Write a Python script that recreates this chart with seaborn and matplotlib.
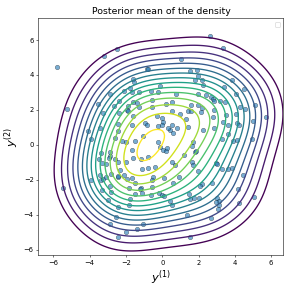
import numpy as np
import pandas as pd
import matplotlib
matplotlib.use("Agg")
import matplotlib.pyplot as plt
import seaborn as sns
from seaborn._statistics import KDE

y1 = [
    # outer / sparse
    -5.80, -3.23, -2.47, 2.62, 3.33, 1.04, -5.23, 5.70, -5.45, 1.55, -2.44, 5.03, 4.97,
    # upper left
    -0.84, -0.77, -1.59, -1.54, -2.12, -1.76, -1.65, -1.26, -0.63, -0.23, -0.14, -2.88,
    -2.36, -1.61, -1.41, -3.56, -2.66, -1.90, -1.28, -0.58, -0.58, -3.25, -2.36, -3.43,
    -4.11, -2.44, -2.42,
    # upper right
    1.55, 1.92, 1.83, 2.19, 1.96, 2.27, 3.87, 3.42, 4.51, 4.07, 0.78, 1.99, 2.41, 2.67,
    2.82, 2.87, 3.17, 3.48, 0.56, 0.19, 1.57, 1.99, 2.18, 4.29, 4.55, 5.12,
    # right middle
    2.12, 2.87, 3.52, 4.07, 2.80, 3.33, 3.64, 4.12, 4.23, 4.99, 2.86, 2.27, 3.61, 3.28,
    3.89, 4.14, 2.95, 3.00, 3.28, 3.63, 3.83, 4.45, 2.76, 2.18, 2.08,
    # centre, upper half
    -1.96, -1.87, 0.52, 0.98, 1.44, 1.57, -1.59, -0.95, -0.85, -0.30, -0.03, 0.06, 0.01,
    0.52, 1.31, 0.43, 0.61, 1.41, -1.50, -2.00, -2.23, -1.08, 1.68, 0.32, 0.80, -1.68,
    -0.25, -2.60, -0.22,
    # centre, lower half
    -1.68, -0.12, 0.06, 0.19, 0.25, 1.81, 1.62, -1.59, -1.19, -0.77, 0.52, 0.71, 1.62,
    1.71, -1.13, -0.77, -0.40, -2.11, -1.92, -1.68, -1.50, -0.49, -0.55, 0.10, 0.93,
    -1.19, -0.58, 0.61, 1.20, 1.99, 1.88, -2.00,
    # left middle
    -3.93, -3.36, -2.86, -2.86, -3.48, -2.95, -2.59, -2.44, -3.10, -3.34, -3.41, -2.84,
    -3.93, -3.39, -3.26, -3.08, -2.44, -2.45, -2.33,
    # lower left
    -3.32, -2.90, -2.82, -2.97, -2.45, -1.85, -1.80, -1.50, -1.10, -0.62, -0.20, -1.85,
    -1.25, -2.56, -2.89, -1.08, -1.41, -2.00, -0.03,
    # lower right
    0.10, 1.48, 1.52, 1.75, 2.01, 3.04, 3.15, 2.98, 3.10, 3.08, 4.25, 0.42, 0.52, 1.35,
    2.70, 4.16,
]
y2 = [
    # outer / sparse
    4.45, 5.07, 5.49, 6.25, 5.56, 4.91, 2.06, 1.62, -2.44, -5.27, -5.26, -2.97, 0.34,
    # upper left
    4.33, 4.35, 3.79, 3.58, 3.07, 3.26, 3.03, 3.05, 3.09, 3.01, 3.35, 2.90,
    2.53, 2.46, 2.38, 2.36, 2.23, 2.23, 2.17, 2.59, 2.19, 1.81, 1.81, 0.95,
    0.78, 0.82, 1.22,
    # upper right
    4.21, 4.27, 3.71, 3.73, 3.92, 3.45, 3.71, 3.31, 3.20, 2.91, 2.90, 2.90, 2.84, 2.73,
    2.65, 2.53, 2.53, 2.46, 2.48, 2.36, 2.27, 2.27, 2.11, 2.15, 2.07, 2.27,
    # right middle
    1.90, 1.98, 1.73, 1.75, 1.62, 1.31, 1.16, 1.26, 1.16, 1.37, 0.99, 0.87, 0.63, 0.32,
    0.25, 0.29, -1.01, -1.09, -1.37, -1.37, -1.30, -1.71, -2.15, -2.25, -2.33,
    # centre, upper half
    2.02, 1.92, 1.92, 1.77, 1.92, 1.96, 1.64, 1.26, 1.16, 1.64, 1.54, 1.31, 1.16,
    1.16, 1.50, 0.84, 0.69, 1.03, 0.25, 0.15, 0.21, 0.50, 0.15, 0.97, 0.97, 1.14,
    1.08, 0.42, 0.18,
    # centre, lower half
    -0.29, -0.13, -0.29, -0.36, -0.17, -0.42, -0.04, -0.74, -0.80, -0.70, -0.99, -1.12, -0.99,
    -1.12, -1.37, -1.31, -1.27, -1.70, -1.94, -1.91, -2.19, -1.85, -2.00, -1.91, -1.81,
    -2.48, -2.42, -2.19, -0.57, -1.50, -0.32, -0.96,
    # left middle
    0.32, -0.47, -0.40, -0.62, -0.82, -0.76, -0.82, -0.97, -1.09, -1.05, -1.71, -1.68,
    -2.02, -2.02, -1.93, -1.83, -1.83, -1.77, -1.42,
    # lower left
    -2.58, -2.35, -2.72, -3.14, -3.53, -3.42, -3.07, -2.78, -2.74, -2.88, -2.74, -2.44,
    -2.50, -4.11, -4.52, -4.51, -4.82, -4.99, -2.86,
    # lower right
    -2.93, -2.78, -3.07, -3.01, -3.05, -3.05, -3.20, -3.28, -3.45, -3.64, -3.33, -3.23, -3.43, -4.00,
    -4.20, -2.53,
]

x_ticks = [-6, -4, -2, 0, 2, 4, 6]
y_ticks = [-6, -4, -2, 0, 2, 4, 6]

df = pd.DataFrame({"y1": y1, "y2": y2})

fig = plt.figure(figsize=(6, 6), dpi=48.5)
ax = fig.add_axes([0.132, 0.124, 0.842, 0.813])

# density surface estimated from the observations (seaborn's KDE), drawn with
# equally spaced density levels like a plain contour plot
kde = KDE(bw_adjust=1.7, gridsize=200, cut=4)
density, (gx, gy) = kde(df["y1"], df["y2"])
levels = density.max() * np.linspace(0.15, 0.985, 15)
ax.contour(gx, gy, density, levels=levels, cmap="viridis", linewidths=2)

# observations
sns.scatterplot(data=df, x="y1", y="y2", ax=ax, s=45, color="C0", alpha=0.6,
                edgecolor="black", linewidth=0.6)

ax.set_xlim(-6.83, 6.68)
ax.set_ylim(-6.29, 7.24)
ax.set_xticks(x_ticks)
ax.set_yticks(y_ticks)
ax.set_xlabel(r"$y^{(1)}$", fontsize=17)
ax.set_ylabel(r"$y^{(2)}$", fontsize=17)
ax.set_title("Posterior mean of the density", fontsize=14)
ax.legend(loc="upper right")

fig.savefig("out.png", dpi=48.5)
